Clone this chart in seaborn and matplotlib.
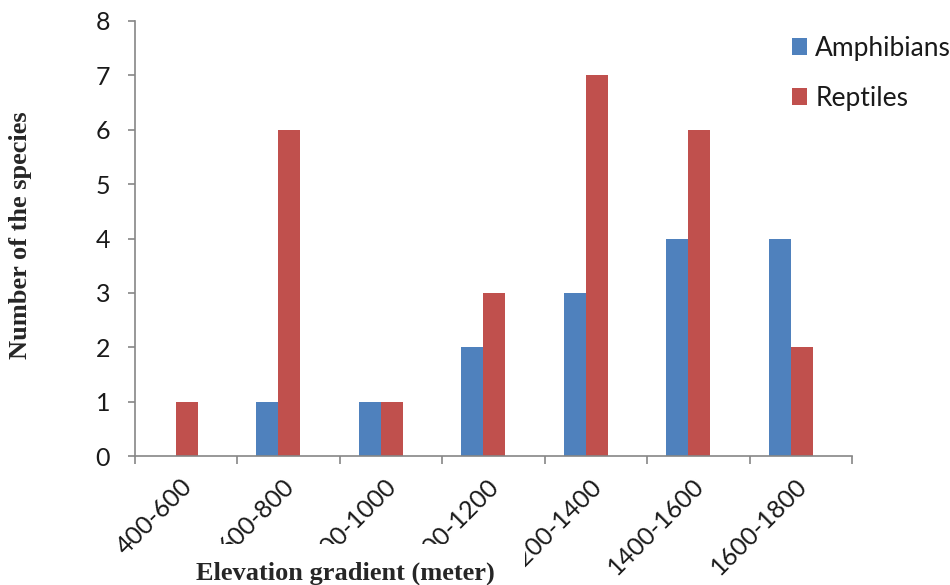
import matplotlib
matplotlib.use("Agg")
import matplotlib.pyplot as plt
from matplotlib.patches import Rectangle
from matplotlib.ticker import FixedLocator
import seaborn as sns
import pandas as pd

elevations = ["400-600", "600-800", "800-1000", "1000-1200",
              "1200-1400", "1400-1600", "1600-1800"]
amphibians = [0, 1, 1, 2, 3, 4, 4]
reptiles = [1, 6, 1, 3, 7, 6, 2]
series_names = ["Amphibians", "Reptiles"]
colors = ["#4F81BD", "#C0504D"]

df = pd.DataFrame({
    "Elevation": elevations * 2,
    "Count": amphibians + reptiles,
    "Group": [series_names[0]] * len(elevations) + [series_names[1]] * len(elevations),
})

sns.set_style("white")
plt.rcParams["font.family"] = ["Lato", "DejaVu Sans"]

fig = plt.figure(figsize=(9.5, 5.85), dpi=100)
ax = fig.add_axes([135 / 950, 1 - 456 / 585, (852 - 135) / 950, (456 - 21) / 585])

sns.barplot(data=df, x="Elevation", y="Count", hue="Group", order=elevations,
            hue_order=series_names, palette=colors, width=0.43, gap=0,
            saturation=1, linewidth=0, edgecolor="none", ax=ax, legend=True)

n = len(elevations)
# category slots run from i-0.4 to i+0.6; each bar pair sits slightly left of slot centre
ax.set_xlim(-0.4, n - 0.4)
ax.set_ylim(0, 8)
ax.set_yticks(range(0, 9))
ax.set_xticks([i + 0.04 for i in range(n)])
ax.set_xticklabels(elevations)
ax.xaxis.set_minor_locator(FixedLocator([i - 0.4 for i in range(n + 1)]))

grey = "#868686"
for side in ["top", "right"]:
    ax.spines[side].set_visible(False)
for side in ["left", "bottom"]:
    ax.spines[side].set_color(grey)
    ax.spines[side].set_linewidth(1.2)

ax.tick_params(axis="y", which="major", direction="out", length=5, width=1.2,
               color=grey, labelsize=18, labelcolor="#1a1a1a", pad=13, left=True)
ax.tick_params(axis="x", which="major", length=0, labelsize=18,
               labelcolor="#1a1a1a", pad=13)
ax.tick_params(axis="x", which="minor", direction="out", length=6, width=1.2,
               color=grey, bottom=True)

for lbl in ax.get_xticklabels():
    lbl.set_rotation(45)
    lbl.set_ha("right")
    lbl.set_va("top")
    lbl.set_rotation_mode("anchor")

ax.set_xlabel("")
ax.set_ylabel("")

leg = ax.legend(loc="upper left", bbox_to_anchor=(781 / 950, 1 - 25 / 585),
                bbox_transform=fig.transFigure, frameon=False, fontsize=19,
                handlelength=0.6, handleheight=0.6, handletextpad=0.3,
                labelspacing=0.95, borderaxespad=0)
for txt in leg.get_texts():
    txt.set_color("#1a1a1a")

# white panel behind the x-axis title
fig.patches.append(Rectangle((165 / 950, 0), 360 / 950, 41 / 585,
                             transform=fig.transFigure, facecolor="white",
                             edgecolor="none", zorder=2))
fig.text(345 / 950, 1 - 573 / 585, "Elevation gradient (meter)",
         family="Liberation Serif", weight="bold", fontsize=19,
         ha="center", va="center", zorder=3)
fig.text(21 / 950, 1 - 235 / 585, "Number of the species",
         family="Liberation Serif", weight="bold", fontsize=19,
         rotation=90, ha="center", va="center", zorder=3)

fig.savefig("out.png", dpi=100)
